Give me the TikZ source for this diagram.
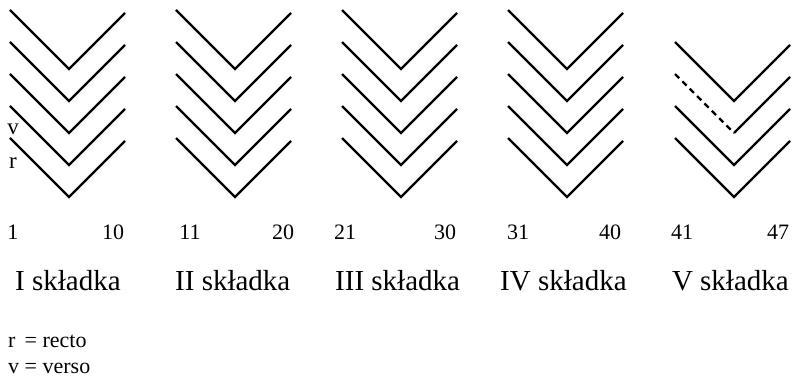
\documentclass[tikz,border=0pt]{standalone}
\usepackage{fontspec}
\setmainfont{Liberation Serif}
\begin{document}
\begin{tikzpicture}[x=1pt,y=-1pt,
  fold/.style={line width=2.2pt,line join=miter},
  dashfold/.style={line width=2.2pt,dash pattern=on 6pt off 4.4pt},
  num/.style={anchor=base,font=\fontsize{22}{24}\selectfont,inner sep=0pt},
  lab/.style={anchor=base west,font=\fontsize{29}{32}\selectfont,inner sep=0pt},
  leg/.style={anchor=base west,font=\fontsize{22}{24}\selectfont,inner sep=0pt},
  rv/.style={anchor=base,font=\fontsize{23}{25}\selectfont,inner sep=0pt}]
\useasboundingbox (0,0) rectangle (793,377);
% groups I-IV: five chevrons each
\foreach \gx in {10,176,342,508}{
  \foreach \k in {0,...,4}{
    \pgfmathsetmacro{\ty}{10+32*\k}
    \draw[fold] (\gx,\ty) -- (\gx+59,\ty+59) -- (\gx+115,\ty+3);
  }
}
% group V: four chevrons, second with dashed left arm
\coordinate (v1) at (734,101);
\draw[fold] (675,42) -- (v1) -- (790,45);
\coordinate (v2) at (734,133);
\draw[dashfold] (675,74) -- (v2);
\draw[fold] (v2) -- (790,77);
\foreach \k in {2,3}{
  \pgfmathsetmacro{\ty}{10+32*(\k+1)}
  \draw[fold] (675,\ty) -- (734,\ty+59) -- (790,\ty+3);
}
% v / r
\node[rv] (lv) at (13,135) {v};
\node[rv] (lr) at (13,168) {r};
% page numbers
\foreach \x/\t [count=\i] in {13/1,113/10,190/11,283/20,345/21,445/30,518/31,610/40,682/41,778/47}{
  \node[num] (n\i) at (\x,240) {\t};
}
% names
\node[lab] (s1) at (15,290) {I składka};
\node[lab] (s2) at (175,290) {II składka};
\node[lab] (s3) at (335,290) {III składka};
\node[lab] (s4) at (500,290) {IV składka};
\node[lab,anchor=base east] (s5) at (789,290) {V składka};
% legend
\node[leg] (g1) at (8,347) {r\ \,= recto};
\node[leg] (g2) at (8,373) {v = verso};
\end{tikzpicture}
\end{document}
